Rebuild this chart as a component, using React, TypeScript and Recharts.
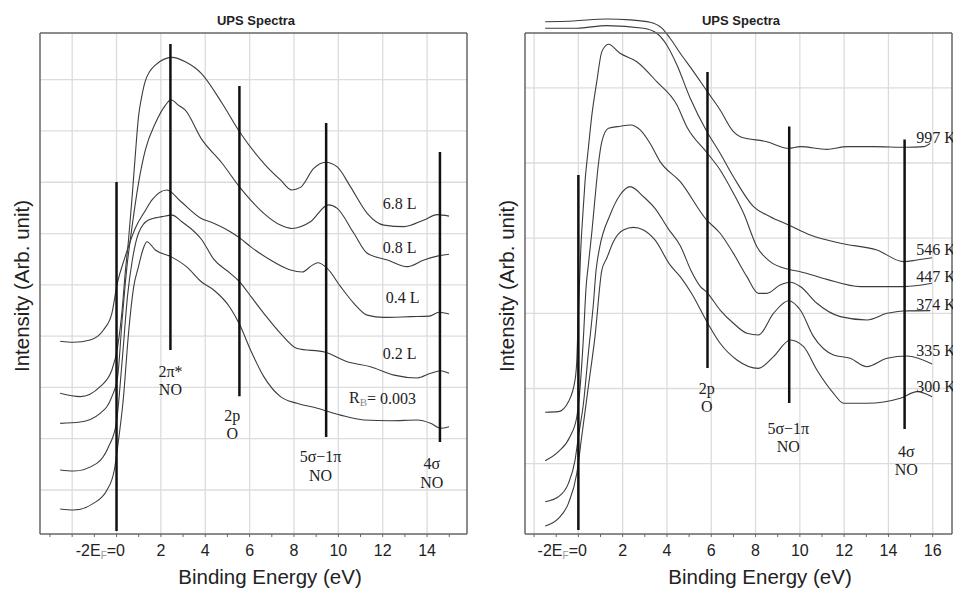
import React from 'react';
import { LineChart, Line, XAxis, YAxis, ReferenceLine, ReferenceDot } from 'recharts';

// UPS spectra, [binding energy (eV), intensity (arb. units)]
// left panel: NO exposure series
const exp68 = [[-2.54,5.77],[-1.64,5.64],[-0.74,6.03],[-0.21,6.68],[0.05,7.59],[0.25,9.0],[0.39,10.45],[0.54,11.75],[0.7,13.4],[0.84,14.99],[0.99,16.55],[1.15,17.4],[1.3,17.95],[1.75,18.57],[2.5,18.87],[3.1,18.7],[3.82,18.25],[4.76,17.08],[5.56,15.95],[6.68,14.7],[7.39,14.09],[7.9,13.7],[8.29,13.8],[8.89,14.54],[9.42,14.78],[9.95,14.6],[10.55,13.82],[11.3,12.79],[12.05,12.33],[12.96,12.27],[13.86,12.53],[14.46,12.74],[14.99,12.68]];
const exp08 = [[-2.54,4.6],[-1.64,4.65],[-0.74,4.99],[-0.21,5.64],[0.05,6.42],[0.25,8.6],[0.47,10.71],[0.7,12.27],[0.99,13.96],[1.3,15.26],[1.75,16.3],[2.2,17.0],[2.45,17.22],[2.8,17.0],[3.1,16.81],[3.82,15.7],[4.76,14.74],[5.56,13.8],[6.04,13.31],[6.64,12.79],[7.39,12.33],[7.9,12.2],[8.74,12.46],[9.55,13.12],[9.95,12.98],[10.7,12.01],[11.3,11.23],[12.21,10.97],[13.11,10.71],[13.86,10.97],[14.46,11.12],[14.99,11.19]];
const exp04 = [[-2.54,7.8],[-1.94,7.76],[-1.19,7.85],[-0.59,8.24],[-0.21,8.89],[0.02,10.0],[0.39,11.1],[0.84,12.2],[1.3,12.9],[1.6,13.31],[2.27,13.7],[2.9,13.25],[3.8,12.6],[4.38,12.4],[5.13,12.07],[5.58,11.81],[6.04,11.49],[6.94,10.97],[7.84,10.58],[8.37,10.5],[8.8,10.75],[9.07,10.86],[9.5,10.64],[10.1,9.93],[10.7,9.28],[11.3,8.82],[12.05,8.73],[13.26,8.76],[14.1,8.78],[14.54,8.93],[14.99,8.86]];
const exp02 = [[-2.54,2.78],[-1.94,2.74],[-0.89,3.04],[-0.36,3.69],[-0.01,4.6],[0.25,7.0],[0.5,9.6],[0.7,10.9],[0.99,12.01],[1.44,12.53],[2.05,12.66],[2.5,12.72],[2.95,12.46],[3.85,11.75],[4.38,11.0],[5.13,10.45],[5.55,10.12],[6.1,9.5],[6.64,8.89],[7.39,8.11],[8.14,7.52],[9.42,7.37],[10.4,7.0],[11.45,6.81],[12.51,6.48],[13.56,6.37],[14.16,6.55],[14.61,6.65],[14.99,6.55]];
const exp0003 = [[-2.54,1.26],[-1.94,1.22],[-1.04,1.48],[-0.43,2.0],[-0.1,2.78],[0.05,3.69],[0.3,5.5],[0.55,8.2],[0.77,9.9],[0.99,10.71],[1.2,11.4],[1.37,11.68],[1.75,11.36],[2.45,11.1],[3.15,10.71],[3.85,10.1],[4.38,9.8],[5.13,9.1],[5.55,8.45],[6.04,7.46],[6.64,6.42],[7.39,5.64],[8.14,5.38],[9.05,5.19],[10.1,4.92],[11.15,4.73],[12.36,4.7],[13.56,4.73],[14.16,4.6],[14.61,4.41],[14.99,4.47]];

// right panel: anneal temperature series
const t997 = [[-1.5,34.4],[-0.23,34.45],[1.28,34.58],[2.34,34.52],[3.24,34.36],[3.77,33.97],[4.14,33.3],[4.6,32.3],[5.2,31.08],[5.8,29.8],[6.4,28.53],[7.0,27.09],[7.31,26.75],[8.51,26.42],[9.49,25.98],[10.02,26.09],[11.22,25.91],[12.13,26.09],[13.33,26.09],[14.84,26.05],[15.59,26.09],[15.89,26.31]];
const t546 = [[-1.5,33.97],[-0.07,33.97],[1.28,34.14],[2.94,33.97],[3.54,33.63],[3.99,32.85],[4.45,31.52],[5.05,29.31],[5.8,27.1],[6.4,25.65],[7.0,24.09],[7.91,22.1],[8.66,21.43],[9.49,20.88],[10.47,20.21],[11.83,19.66],[13.48,19.21],[14.69,18.44],[15.29,18.55],[15.97,18.7]];
const t447 = [[-1.5,8.42],[-0.9,8.46],[-0.45,9.12],[-0.15,10.57],[-0.07,11.9],[0.0,15.0],[0.11,19.33],[0.2,21.54],[0.3,23.76],[0.45,25.98],[0.61,28.2],[0.83,30.41],[1.06,32.41],[1.36,32.9],[1.88,32.3],[2.64,31.74],[3.54,30.41],[4.45,28.86],[4.9,27.4],[5.8,25.7],[6.4,24.54],[7.0,22.99],[7.46,21.66],[8.06,19.43],[8.66,18.44],[9.49,17.93],[10.02,17.77],[11.22,17.26],[12.73,16.78],[13.94,16.78],[14.69,16.78],[15.97,17.0]];
const t374 = [[-1.5,5.2],[-0.9,5.8],[-0.38,6.79],[-0.07,8.12],[0.08,10.12],[0.23,13.45],[0.35,16.78],[0.45,18.22],[0.61,20.43],[0.75,22.65],[0.9,24.87],[1.06,26.42],[1.36,27.31],[1.9,27.45],[2.34,27.53],[2.79,27.2],[3.24,26.3],[3.69,25.09],[4.6,23.76],[5.8,21.2],[6.4,20.33],[7.0,18.99],[7.61,17.44],[8.13,16.33],[8.51,16.33],[9.11,16.89],[9.57,17.07],[10.02,16.78],[10.77,15.67],[11.83,14.78],[13.03,14.56],[13.94,15.0],[14.69,15.16],[15.89,15.18]];
const t335 = [[-1.5,2.47],[-0.9,2.8],[-0.45,3.69],[-0.15,5.24],[0.0,6.79],[0.23,9.02],[0.45,12.34],[0.68,15.67],[0.8,17.88],[0.95,19.3],[1.43,21.54],[1.88,22.87],[2.34,23.43],[2.94,22.76],[3.45,22.0],[4.07,20.6],[4.6,19.5],[5.1,17.8],[5.5,16.8],[5.8,16.4],[6.4,15.22],[7.0,14.34],[7.61,13.67],[8.13,13.56],[8.81,15.0],[9.49,15.84],[10.02,15.22],[10.62,13.45],[11.52,12.23],[12.27,12.01],[13.03,11.45],[13.94,12.01],[14.84,12.16],[15.97,11.63]];
const t300 = [[-1.5,0.85],[-0.9,1.36],[-0.45,2.36],[-0.07,4.36],[0.15,6.79],[0.45,10.12],[0.75,13.45],[1.06,17.88],[1.28,18.66],[1.58,19.77],[2.03,20.55],[2.49,20.72],[2.94,20.55],[3.45,19.9],[4.14,18.22],[4.6,17.44],[5.12,16.3],[5.8,14.45],[6.4,13.01],[7.16,11.9],[8.13,11.34],[8.81,12.12],[9.57,13.23],[10.17,12.78],[10.77,11.23],[11.52,9.68],[11.97,9.02],[13.03,9.02],[14.54,9.35],[15.29,9.79],[15.97,9.45]];

// axis ticks and grid values
const leftXTicks = [-3, -2, -1, 0, 1, 2, 3, 4, 5, 6, 7, 8, 9, 10, 11, 12, 13, 14, 15];
const leftYTicks = [1, 2, 3, 4, 5, 6, 7, 8, 9, 10, 11, 12, 13, 14, 15, 16, 17, 18, 19];
const leftGridX = [-2, 0, 2, 4, 6, 8, 10, 12, 14];
const leftGridY = [2, 4, 6, 8, 10, 12, 14, 16, 18];
const rightXTicks = [-2, -1, 0, 1, 2, 3, 4, 5, 6, 7, 8, 9, 10, 11, 12, 13, 14, 15, 16];
const rightYTicks = Array.from({ length: 33 }, (_, i) => i + 1);
const rightGridX = [-2, 0, 2, 4, 6, 8, 10, 12, 14, 16];
const rightGridY = [5, 10, 15, 20, 25, 30];

// orbital marker bars: energy, bottom, top
const leftBars = [[0, 0.4, 14.01], [2.43, 7.46, 19.39], [5.54, 5.66, 17.75], [9.45, 4.07, 16.31], [14.58, 3.87, 15.18]];
const rightBars = [[0, 0.59, 24.2], [5.83, 11.36, 31.06], [9.52, 9.04, 27.43], [14.73, 7.31, 26.57]];

// orbital labels: text, energy, intensity
const leftOrbitals: [string, number, number][] = [
  ['2π*', 2.43, 6.64], ['NO', 2.43, 5.9], ['2p', 5.22, 4.89], ['O', 5.22, 4.22],
  ['5σ−1π', 9.2, 3.29], ['NO', 9.2, 2.55], ['4σ', 14.21, 3.05], ['NO', 14.21, 2.31],
];
const rightOrbitals: [string, number, number][] = [
  ['2p', 5.8, 9.97], ['O', 5.8, 8.77], ['5σ−1π', 9.48, 7.37], ['NO', 9.48, 6.17],
  ['4σ', 14.81, 5.84], ['NO', 14.81, 4.58],
];
const leftCurveNames: [string, number, number][] = [
  ['6.8 L', 12.76, 13.19], ['0.8 L', 12.76, 11.47], ['0.4 L', 12.9, 9.49], ['0.2 L', 12.76, 7.34],
];
const rbLabel = { e: 11.99, v: 5.59, value: '0.003' };
const rightCurveNames: [string, number, number][] = [
  ['997 K', 15.26, 26.67], ['546 K', 15.26, 19.28], ['447 K', 15.26, 17.42],
  ['374 K', 15.26, 15.62], ['335 K', 15.26, 12.56], ['300 K', 15.26, 10.1],
];

const SANS = '"Liberation Sans", Arial, sans-serif';
const SERIF = '"Liberation Serif", "Times New Roman", serif';
const FRAME = '#666';
const GRID = '#dcdcdc';
const CURVE = '#3c3c3c';

const toPts = (arr: number[][]) => arr.map(([e, v]) => ({ e, v }));

function XTick(props: any) {
  const { x, y, payload } = props;
  const val = payload.value;
  if (val === 0) {
    return (
      <text x={x + 8.5} y={y + 17} textAnchor="end" fontFamily={SANS} fontSize={16} fill="#222">
        -2E<tspan fontSize={10} dy={3} fill="#999">F</tspan><tspan dy={-3}>=0</tspan>
      </text>
    );
  }
  if (val < 2 || val % 2 !== 0) return <g />;
  return (
    <text x={x} y={y + 17} textAnchor="middle" fontFamily={SANS} fontSize={16} fill="#222">{val}</text>
  );
}

const serifText = (txt: string, anchor: 'middle' | 'start') => (p: any) => (
  <text x={p.cx} y={p.cy} textAnchor={anchor} dominantBaseline="central" fontFamily={SERIF} fontSize={16} fill="#222">{txt}</text>
);

const rbText = (p: any) => (
  <text x={p.cx} y={p.cy} textAnchor="middle" dominantBaseline="central" fontFamily={SERIF} fontSize={16} fill="#222">
    R<tspan fontSize={11} dy={4} fill="#888">B</tspan><tspan dy={-4}>= {rbLabel.value}</tspan>
  </text>
);

type PanelProps = {
  width: number;
  leftW: number;
  rightW: number;
  xDomain: [number, number];
  yDomain: [number, number];
  xTicks: number[];
  yTicks: number[];
  gridX: number[];
  gridY: number[];
  series: number[][][];
  bars: number[][];
  orbitals: [string, number, number][];
  names: [string, number, number][];
  nameAnchor: 'middle' | 'start';
  withRb?: boolean;
  className?: string;
};

function Panel(p: PanelProps) {
  const axisLine = { stroke: FRAME, strokeWidth: 1.5 };
  return (
    <LineChart width={p.width} height={589} margin={{ top: 0, right: 0, bottom: 0, left: 0 }} className={p.className}>
      <XAxis xAxisId={0} type="number" dataKey="e" domain={p.xDomain} allowDataOverflow ticks={p.xTicks} interval={0}
        height={55} tickSize={3} tick={<XTick />} stroke={FRAME} axisLine={axisLine} />
      <XAxis xAxisId="top" orientation="top" type="number" domain={p.xDomain} allowDataOverflow ticks={p.xTicks}
        interval={0} height={33} tickSize={3} tick={false} stroke={FRAME} axisLine={axisLine} />
      <YAxis yAxisId={0} type="number" domain={p.yDomain} allowDataOverflow ticks={p.yTicks} interval={0}
        width={p.leftW} tickSize={3} tick={false} stroke={FRAME} axisLine={axisLine} />
      <YAxis yAxisId="right" orientation="right" type="number" domain={p.yDomain} allowDataOverflow ticks={p.yTicks}
        interval={0} width={p.rightW} tickSize={3} tick={false} stroke={FRAME} axisLine={axisLine} />

      {p.gridX.map((g) => (
        <ReferenceLine key={'gx' + g} x={g} stroke={GRID} strokeWidth={1.3} />
      ))}
      {p.gridY.map((g) => (
        <ReferenceLine key={'gy' + g} y={g} stroke={GRID} strokeWidth={1.3} />
      ))}

      {p.series.map((s, i) => (
        <Line key={'s' + i} data={toPts(s)} dataKey="v" type="monotone" stroke={CURVE} strokeWidth={1.1}
          dot={false} activeDot={false} isAnimationActive={false} />
      ))}

      {p.bars.map(([e, lo, hi], i) => (
        <ReferenceLine key={'b' + i} segment={[{ x: e, y: lo }, { x: e, y: hi }]} stroke="#111" strokeWidth={2.5} ifOverflow="visible" />
      ))}

      {p.orbitals.map(([t, e, v], i) => (
        <ReferenceDot key={'o' + i} x={e} y={v} r={0} ifOverflow="visible" shape={serifText(t, 'middle')} />
      ))}
      {p.names.map(([t, e, v], i) => (
        <ReferenceDot key={'n' + i} x={e} y={v} r={0} ifOverflow="visible" shape={serifText(t, p.nameAnchor)} />
      ))}
      {p.withRb && <ReferenceDot x={rbLabel.e} y={rbLabel.v} r={0} ifOverflow="visible" shape={rbText} />}
    </LineChart>
  );
}

const abs = (left: number, top: number): React.CSSProperties => ({ position: 'absolute', left, top });

function Titles({ cx, titleX, ylx }: { cx: number; titleX: number; ylx: number }) {
  return (
    <>
      <div style={{ ...abs(titleX - 100, 13), width: 200, textAlign: 'center', fontFamily: SANS, fontWeight: 'bold', fontSize: 13, lineHeight: '15px', color: '#222' }}>
        UPS Spectra
      </div>
      <div style={{ ...abs(cx - 150, 565), width: 300, textAlign: 'center', fontFamily: SANS, fontSize: 20.5, lineHeight: '24px', color: '#222' }}>
        Binding Energy (eV)
      </div>
      <div style={{ ...abs(ylx, 286), transform: 'translate(-50%, -50%) rotate(-90deg)', whiteSpace: 'nowrap', fontFamily: SANS, fontSize: 20.5, lineHeight: '24px', color: '#222' }}>
        Intensity (Arb. unit)
      </div>
    </>
  );
}

export default function App() {
  return (
    <div style={{ position: 'fixed', left: 0, top: 0, width: 953, height: 589, overflow: 'hidden', background: '#fff' }}>
      <style>{'.ups-right [clip-path]{clip-path:none !important}'}</style>
      <div style={abs(0, 0)}>
        <Panel width={480} leftW={40} rightW={13} xDomain={[-3.45, 15.8]} yDomain={[0.285, 19.82]}
          xTicks={leftXTicks} yTicks={leftYTicks} gridX={leftGridX} gridY={leftGridY}
          series={[exp68, exp08, exp04, exp02, exp0003]} bars={leftBars} orbitals={leftOrbitals}
          names={leftCurveNames} nameAnchor="middle" withRb />
      </div>
      <div style={abs(480, 0)}>
        <Panel width={492} leftW={45} rightW={20} xDomain={[-2.41, 16.87]} yDomain={[0.32, 33.65]}
          xTicks={rightXTicks} yTicks={rightYTicks} gridX={rightGridX} gridY={rightGridY}
          series={[t997, t546, t447, t374, t335, t300]} bars={rightBars} orbitals={rightOrbitals}
          names={rightCurveNames} nameAnchor="start" className="ups-right" />
      </div>
      <Titles cx={270} titleX={256} ylx={22} />
      <Titles cx={760} titleX={741} ylx={507} />
    </div>
  );
}
